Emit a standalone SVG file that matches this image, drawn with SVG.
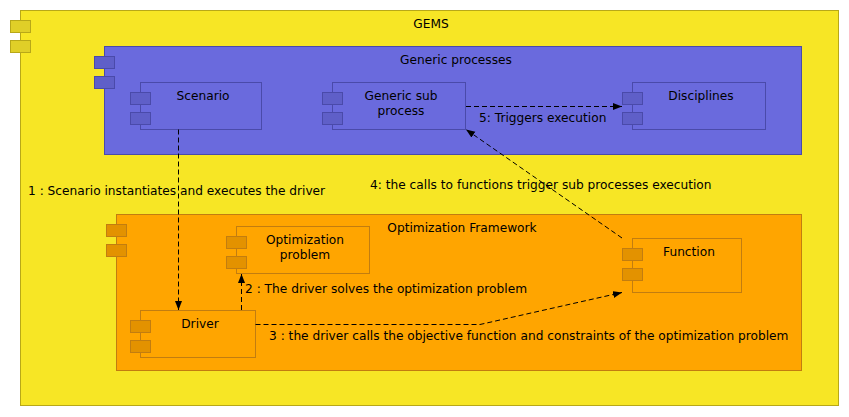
<svg xmlns="http://www.w3.org/2000/svg" width="849" height="417" viewBox="0 0 849 417">
<style>
text{font-family:"DejaVu Sans",sans-serif;font-size:12.2px;fill:#000}
.c{text-anchor:middle}
.y{fill:#f7e625;stroke:#b8a818}
.yt{fill:#e0cf28;stroke:#b8a818}
.b{fill:#6a6add;stroke:#4a4aaa}
.bt{fill:#5f5fc8;stroke:#4a4aaa}
.o{fill:#ffa500;stroke:#c27d10}
.ot{fill:#e39200;stroke:#c27d10}
.e{fill:none;stroke:#000;stroke-dasharray:5,3}
</style>
<defs>
<marker id="ah" markerWidth="10" markerHeight="8" refX="9" refY="4" orient="auto" markerUnits="userSpaceOnUse">
<path d="M0,0.5 L9,4 L0,7.5 z" fill="#000"/>
</marker>
</defs>
<g id="gems">
<rect class="y" x="20.5" y="10.5" width="818" height="395"/>
<rect class="yt" x="10.5" y="20.5" width="20" height="12"/>
<rect class="yt" x="10.5" y="40.5" width="20" height="12"/>
<text class="c" x="431" y="28">GEMS</text>
</g>
<g id="generic-processes">
<rect class="b" x="104.5" y="46.5" width="697" height="108"/>
<rect class="bt" x="94.5" y="56.5" width="20" height="12"/>
<rect class="bt" x="94.5" y="76.5" width="20" height="12"/>
<text class="c" x="456" y="64">Generic processes</text>
</g>
<g id="scenario">
<rect class="b" x="140.5" y="82.5" width="121" height="47"/>
<rect class="bt" x="130.5" y="92.5" width="20" height="12"/>
<rect class="bt" x="130.5" y="112.5" width="20" height="12"/>
<text class="c" x="203" y="100">Scenario</text>
</g>
<g id="generic-sub-process">
<rect class="b" x="332.5" y="82.5" width="133" height="47"/>
<rect class="bt" x="322.5" y="92.5" width="20" height="12"/>
<rect class="bt" x="322.5" y="112.5" width="20" height="12"/>
<text class="c" x="401" y="100">Generic sub</text>
<text class="c" x="401" y="115">process</text>
</g>
<g id="disciplines">
<rect class="b" x="632.5" y="82.5" width="133" height="47"/>
<rect class="bt" x="622.5" y="92.5" width="20" height="12"/>
<rect class="bt" x="622.5" y="112.5" width="20" height="12"/>
<text class="c" x="701" y="100">Disciplines</text>
</g>
<g id="optimization-framework">
<rect class="o" x="116.5" y="214.5" width="685" height="156"/>
<rect class="ot" x="106.5" y="224.5" width="20" height="12"/>
<rect class="ot" x="106.5" y="244.5" width="20" height="12"/>
<text class="c" x="462" y="232">Optimization Framework</text>
</g>
<g id="optimization-problem">
<rect class="o" x="236.5" y="226.5" width="133" height="47"/>
<rect class="ot" x="226.5" y="236.5" width="20" height="12"/>
<rect class="ot" x="226.5" y="256.5" width="20" height="12"/>
<text class="c" x="305" y="244">Optimization</text>
<text class="c" x="305" y="259">problem</text>
</g>
<g id="function">
<rect class="o" x="632.5" y="238.5" width="109" height="54"/>
<rect class="ot" x="622.5" y="248.5" width="20" height="12"/>
<rect class="ot" x="622.5" y="268.5" width="20" height="12"/>
<text class="c" x="689" y="256">Function</text>
</g>
<g id="driver">
<rect class="o" x="140.5" y="310.5" width="115" height="47"/>
<rect class="ot" x="130.5" y="320.5" width="20" height="12"/>
<rect class="ot" x="130.5" y="340.5" width="20" height="12"/>
<text class="c" x="200" y="328">Driver</text>
</g>
<g id="connectors">
<path class="e" d="M178.5,129.5 L178.5,310" marker-end="url(#ah)"/>
<path class="e" d="M241.5,310 L241.5,274" marker-end="url(#ah)"/>
<path class="e" d="M255.5,324.5 L480,324.5 L622,292.5" marker-end="url(#ah)"/>
<path class="e" d="M622,238 L466,129.5" marker-end="url(#ah)"/>
<path class="e" d="M466,106.5 L622,106.5" marker-end="url(#ah)"/>
<text x="479" y="122">5: Triggers execution</text>
<text x="28" y="195">1 : Scenario instantiates and executes the driver</text>
<text x="370" y="189">4: the calls to functions trigger sub processes execution</text>
<text x="245" y="293">2 : The driver solves the optimization problem</text>
<text x="269" y="340">3 : the driver calls the objective function and constraints of the optimization problem</text>
</g>
</svg>
